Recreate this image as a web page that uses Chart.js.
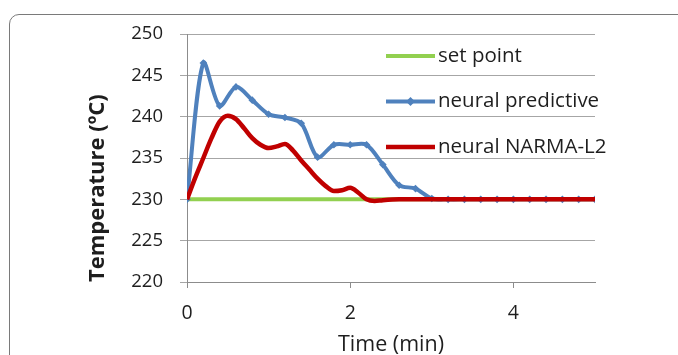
<!DOCTYPE html>
<html>
<head>
<meta charset="utf-8">
<script src="https://cdn.jsdelivr.net/npm/chart.js@4/dist/chart.umd.min.js"></script>
<style>
  html, body { margin: 0; padding: 0; background: #fff; overflow: hidden; }
  #frame {
    position: absolute; left: 9px; top: 14px;
    width: 720px; height: 400px;
    border: 1px solid #7a7a7a; border-radius: 10px;
  }
  #wrap { position: absolute; left: 0; top: 0; width: 678px; height: 355px; }
</style>
</head>
<body>
<div id="frame"></div>
<div id="wrap"><canvas id="tempChart" width="678" height="355"></canvas></div>
<script>
// Temperature response

const seriesNames = ['set point', 'neural predictive', 'neural NARMA-L2'];

// set point (flat line)
const setTime = [0, 5];
const setTemp = [230, 230];

// neural predictive (markers every 0.2 min)
const predTime = [0, 0.2, 0.4, 0.6, 0.8, 1.0, 1.2, 1.4, 1.6, 1.8, 2.0, 2.2, 2.4,
                  2.6, 2.8, 3.0, 3.2, 3.4, 3.6, 3.8, 4.0, 4.2, 4.4, 4.6, 4.8, 5.0];
const predTemp = [230, 246.5, 241.3, 243.6, 242.0, 240.3, 239.9, 239.2, 235.1, 236.6, 236.6, 236.6, 234.2,
                  231.7, 231.3, 230.1, 230, 230, 230, 230, 230, 230, 230, 230, 230, 230];

// neural NARMA-L2 (smooth curve)
const narmaTime = [0, 0.1, 0.2, 0.3, 0.4, 0.5, 0.6, 0.7, 0.8, 0.9, 1.0, 1.1, 1.2, 1.3, 1.4,
                   1.5, 1.6, 1.7, 1.8, 1.9, 2.0, 2.1, 2.2, 2.3, 2.4, 2.6, 3.0, 4.0, 5.0];
const narmaTemp = [230, 232.6, 235.0, 237.4, 239.4, 240.1, 239.7, 238.6, 237.4, 236.6, 236.2, 236.4, 236.7, 235.9, 234.7,
                   233.6, 232.5, 231.6, 231.0, 231.1, 231.4, 230.8, 230.0, 229.8, 229.9, 230, 230, 230, 230];

const xTicks = [0, 2, 4];
const yMin = 220, yMax = 250, yStep = 5;

const colors = ['#92D050', '#4F81BD', '#C00000'];

function toPoints(xs, ys) {
    return xs.map((x, i) => ({ x: x, y: ys[i] }));
}

// legend drawn inside the plot, stacked on the right
const insideLegend = {
    id: 'insideLegend',
    afterDraw(chart) {
        const ctx = chart.ctx;
        const x0 = 386, x1 = 435, rows = [56, 101.5, 147];
        ctx.save();
        ctx.font = '20.5px "Open Sans", sans-serif';
        ctx.textBaseline = 'middle';
        ctx.textAlign = 'left';
        // legend order matches seriesNames
        seriesNames.forEach((name, i) => {
            const y = rows[i];
            ctx.strokeStyle = colors[i];
            ctx.lineWidth = i === 2 ? 4.5 : 4;
            ctx.beginPath();
            ctx.moveTo(x0, y);
            ctx.lineTo(x1, y);
            ctx.stroke();
            if (i === 1) {
                ctx.fillStyle = colors[i];
                ctx.beginPath();
                ctx.moveTo(410.5, y - 4.5);
                ctx.lineTo(415, y);
                ctx.lineTo(410.5, y + 4.5);
                ctx.lineTo(406, y);
                ctx.closePath();
                ctx.fill();
            }
            ctx.fillStyle = '#1e1e1e';
            ctx.fillText(name, x1 + 3, y);
        });
        ctx.restore();
    }
};

const ctx = document.getElementById('tempChart').getContext('2d');
const chart = new Chart(ctx, {
    type: 'line',
    data: {
        datasets: [
            {
                label: seriesNames[2],
                data: toPoints(narmaTime, narmaTemp),
                borderColor: colors[2],
                borderWidth: 4.5,
                pointRadius: 0,
                cubicInterpolationMode: 'monotone',
                order: 1
            },
            {
                label: seriesNames[1],
                data: toPoints(predTime, predTemp),
                borderColor: colors[1],
                backgroundColor: colors[1],
                borderWidth: 4,
                pointStyle: 'rectRot',
                pointRadius: 3.8,
                pointBorderWidth: 0,
                tension: 0.3,
                order: 2
            },
            {
                label: seriesNames[0],
                data: toPoints(setTime, setTemp),
                borderColor: colors[0],
                borderWidth: 4,
                pointRadius: 0,
                order: 3
            }
        ]
    },
    options: {
        responsive: false,
        animation: false,
        layout: {
            padding: { left: 80, top: 34, right: 83, bottom: 0 }
        },
        scales: {
            x: {
                type: 'linear',
                min: 0,
                max: 5,
                afterBuildTicks: function(scale) {
                    scale.ticks = xTicks.map(v => ({ value: v }));
                },
                afterFit: function(scale) {
                    scale.height = 73;
                },
                grid: {
                    drawOnChartArea: false,
                    drawTicks: true,
                    tickLength: 6,
                    color: '#8c8c8c'
                },
                border: { display: true, color: '#8c8c8c' },
                ticks: {
                    padding: 14,
                    color: '#1e1e1e',
                    font: { family: '"Open Sans", sans-serif', size: 19.5 }
                },
                title: {
                    display: true,
                    text: 'Time (min)',
                    color: '#1e1e1e',
                    padding: { top: 0, bottom: -3 },
                    font: { family: '"Open Sans", sans-serif', size: 21.5 }
                }
            },
            y: {
                min: yMin,
                max: yMax,
                ticks: {
                    stepSize: yStep,
                    padding: 17,
                    color: '#1e1e1e',
                    font: { family: '"Open Sans", sans-serif', size: 18.5 }
                },
                afterFit: function(scale) {
                    scale.width = 107;
                },
                grid: {
                    color: '#a6a6a6',
                    tickLength: 7
                },
                border: { display: true, color: '#8c8c8c' },
                title: {
                    display: true,
                    text: 'Temperature (ºC)',
                    align: 'start',
                    color: '#1e1e1e',
                    padding: { top: 5, bottom: 0 },
                    font: { family: '"Open Sans", sans-serif', size: 22, weight: 'bold' }
                }
            }
        },
        plugins: {
            legend: { display: false },
            tooltip: { enabled: false }
        }
    },
    plugins: [insideLegend]
});
</script>
</body>
</html>
